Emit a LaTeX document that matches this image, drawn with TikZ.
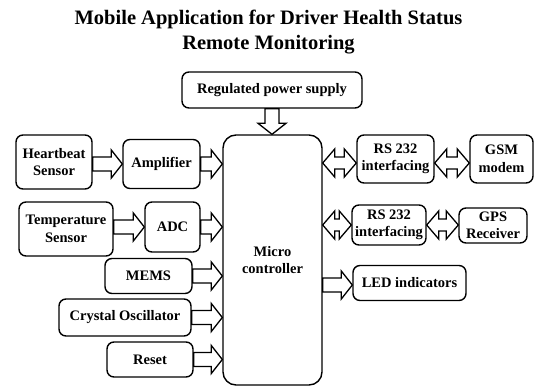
\documentclass[tikz,border=0pt]{standalone}
\usepackage{fontspec}
\setmainfont{Liberation Serif}
\usetikzlibrary{calc}
\newcommand\boxfont{\fontsize{14.5}{17.5}\selectfont\bfseries}
\newcommand\titlefont{\fontsize{20.5}{25}\selectfont\bfseries}
\tikzset{
  box/.style={draw, rounded corners=7pt, line width=1.4pt, align=center, inner sep=0pt, font=\boxfont},
  blockarrow/.style={draw, fill=white, line width=1.3pt, line join=miter,
    to path={let \p1=(\tikztostart), \p2=(\tikztotarget), \p3=($(\tikztotarget)!11pt!(\tikztostart)$) in
      ($(\p1)!7pt!90:(\p2)$) -- ($(\p3)!7pt!90:(\p2)$) -- ($(\p3)!14pt!90:(\p2)$) -- (\p2)
      -- ($(\p3)!14pt!-90:(\p2)$) -- ($(\p3)!7pt!-90:(\p2)$) -- ($(\p1)!7pt!-90:(\p2)$) -- cycle}},
  dblarrow/.style={draw, fill=white, line width=1.3pt, line join=miter,
    to path={let \p1=(\tikztostart), \p2=(\tikztotarget), \p3=($(\tikztotarget)!12pt!(\tikztostart)$), \p4=($(\tikztostart)!12pt!(\tikztotarget)$) in
      (\p1) -- ($(\p4)!14pt!90:(\p2)$) -- ($(\p4)!6pt!90:(\p2)$) -- ($(\p3)!6pt!90:(\p2)$) -- ($(\p3)!14pt!90:(\p2)$) -- (\p2)
      -- ($(\p3)!14pt!-90:(\p2)$) -- ($(\p3)!6pt!-90:(\p2)$) -- ($(\p4)!6pt!-90:(\p2)$) -- ($(\p4)!14pt!-90:(\p2)$) -- cycle}}
}
\begin{document}
\begin{tikzpicture}[x=1pt,y=-1pt]
\useasboundingbox (0,0) rectangle (534,387);
\node[font=\titlefont, align=center] (title) at (268.5,32.5) {Mobile Application for Driver Health Status\\Remote Monitoring};
\node[box, minimum width=180pt, minimum height=36pt] (reg) at (272,90) {Regulated power supply};
\node[box, minimum width=76pt, minimum height=54pt] (hb) at (54,162) {Heartbeat\\Sensor};
\node[box, minimum width=77pt, minimum height=49pt] (amp) at (161.5,164) {Amplifier};
\node[box, minimum width=94pt, minimum height=54pt] (temp) at (66,229) {Temperature\\Sensor};
\node[box, minimum width=55pt, minimum height=50pt] (adc) at (172.5,227) {ADC};
\node[box, minimum width=87pt, minimum height=35pt] (mems) at (148.5,276) {MEMS};
\node[box, minimum width=132pt, minimum height=37pt] (crys) at (125,317.5) {Crystal Oscillator};
\node[box, minimum width=86pt, minimum height=35pt] (reset) at (150,359.5) {Reset};
\node[box, rounded corners=13pt, minimum width=99pt, minimum height=250pt] (mc) at (272.5,260) {Micro\\controller};
\node[box, minimum width=77pt, minimum height=48pt] (rs1) at (395.5,159) {RS 232\\interfacing};
\node[box, minimum width=63pt, minimum height=48pt] (gsm) at (501.5,159) {GSM\\modem};
\node[box, minimum width=74pt, minimum height=40pt] (rs2) at (389,225) {RS 232\\interfacing};
\node[box, minimum width=68pt, minimum height=35pt] (gps) at (493,225.5) {GPS\\Receiver};
\node[box, minimum width=113pt, minimum height=35pt] (led) at (409.5,283) {LED indicators};
\coordinate (hbA) at ([yshift=-2pt]hb.east);
\coordinate (rsA) at ([yshift=-4pt]rs1.west);
\coordinate (rsB) at ([yshift=-4pt]rs1.east);
\coordinate (ledA) at ([yshift=-2pt]led.west);
\draw[blockarrow] (hbA) to (hbA -| amp.west);
\draw[blockarrow] (amp.east) to (amp.east -| mc.west);
\draw[blockarrow] (adc.west -| temp.east) to (adc.west);
\draw[blockarrow] (adc.east) to (adc.east -| mc.west);
\draw[blockarrow] (mems.east) to (mems.east -| mc.west);
\draw[blockarrow] (crys.east) to (crys.east -| mc.west);
\draw[blockarrow] (reset.east) to (reset.east -| mc.west);
\draw[blockarrow] (reg.south) to (reg.south |- mc.north);
\draw[blockarrow] (ledA -| mc.east) to (ledA);
\draw[dblarrow] (rsA -| mc.east) to (rsA);
\draw[dblarrow] (rsB) to (rsB -| gsm.west);
\draw[dblarrow] (rs2.west -| mc.east) to (rs2.west);
\draw[dblarrow] (rs2.east) to (rs2.east -| gps.west);
\end{tikzpicture}
\end{document}
